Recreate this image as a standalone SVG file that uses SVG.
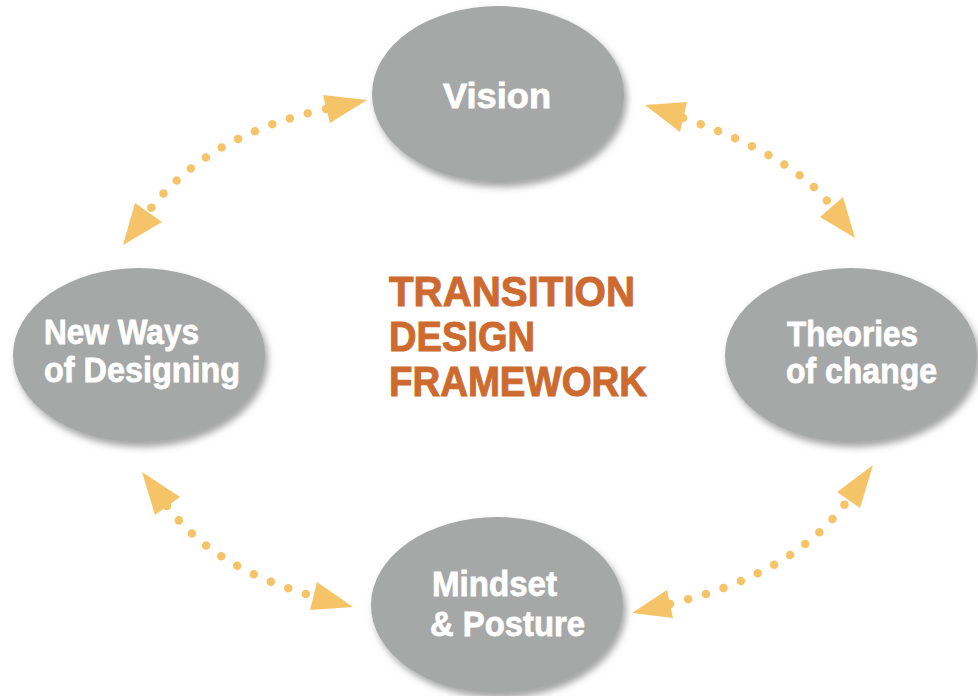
<svg xmlns="http://www.w3.org/2000/svg" width="978" height="696" viewBox="0 0 978 696">
<defs>
<filter id="sh" x="-10%" y="-10%" width="125%" height="130%">
<feDropShadow dx="3" dy="5" stdDeviation="3.5" flood-color="#5a5a5a" flood-opacity="0.55"/>
</filter>
</defs>
<style>
.node{fill:#a6a7a7;filter:url(#sh)}
.lbl{font-family:"Liberation Sans",Arial,sans-serif;font-weight:bold;fill:#ffffff;stroke:#ffffff;stroke-width:0.8;font-size:35px}
.title{font-family:"Liberation Sans",Arial,sans-serif;font-weight:bold;fill:#cd6a2f;stroke:#cd6a2f;stroke-width:1;font-size:42px}
.dots{fill:none;stroke:#f6c468;stroke-width:8.5;stroke-linecap:round;stroke-dasharray:0 18.6}
.head{fill:#f6c468}
</style>
<rect width="978" height="696" fill="#ffffff"/>
<g id="connectors">
<path class="dots" d="M326,109 Q206,135 148,212"/>
<polygon class="head" points="367,100 323,95 330,123"/>
<polygon class="head" points="123,245 135,203 162,222"/>
<path class="dots" d="M683,118 Q794,156 832,207"/>
<polygon class="head" points="645,105 687,102 680,132"/>
<polygon class="head" points="855,238 820,217 843,197"/>
<path class="dots" d="M167,506 Q213,568 313,596"/>
<polygon class="head" points="142,472 180,497 155,515"/>
<polygon class="head" points="353,607 317,582 310,610"/>
<path class="dots" d="M670,604 Q795,574 848,500"/>
<polygon class="head" points="632,613 667,590 673,618"/>
<polygon class="head" points="873,465 837,492 860,508"/>
</g>
<g id="vision">
<ellipse class="node" cx="498" cy="94" rx="126" ry="88"/>
<text class="lbl" x="443" y="108" font-size="40" textLength="108" lengthAdjust="spacingAndGlyphs">Vision</text>
</g>
<g id="new-ways">
<ellipse class="node" cx="139" cy="355" rx="126" ry="87"/>
<text class="lbl" x="44" y="344" textLength="155" lengthAdjust="spacingAndGlyphs">New Ways</text>
<text class="lbl" x="44" y="382" textLength="196" lengthAdjust="spacingAndGlyphs">of Designing</text>
</g>
<g id="theories">
<ellipse class="node" cx="851" cy="355" rx="126" ry="87"/>
<text class="lbl" x="787" y="346" textLength="131" lengthAdjust="spacingAndGlyphs">Theories</text>
<text class="lbl" x="786" y="383" textLength="151" lengthAdjust="spacingAndGlyphs">of change</text>
</g>
<g id="mindset">
<ellipse class="node" cx="497" cy="605" rx="126" ry="88"/>
<text class="lbl" x="432" y="596" textLength="125" lengthAdjust="spacingAndGlyphs">Mindset</text>
<text class="lbl" x="430" y="636" textLength="155" lengthAdjust="spacingAndGlyphs">&amp; Posture</text>
</g>
<g id="title">
<text class="title" x="389" y="306" textLength="246" lengthAdjust="spacingAndGlyphs">TRANSITION</text>
<text class="title" x="389" y="351" textLength="146" lengthAdjust="spacingAndGlyphs">DESIGN</text>
<text class="title" x="389" y="396" textLength="258" lengthAdjust="spacingAndGlyphs">FRAMEWORK</text>
</g>
</svg>
